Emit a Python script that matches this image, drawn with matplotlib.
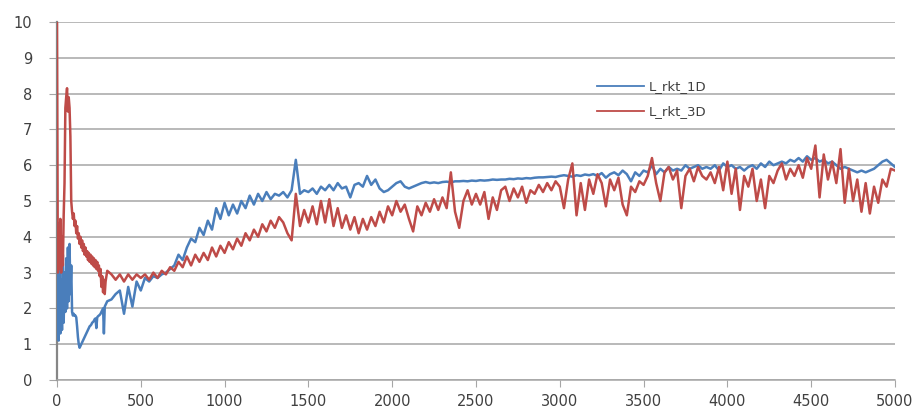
import numpy as np
import matplotlib
matplotlib.use("Agg")
import matplotlib.pyplot as plt

# x grid: dense at the start, then every 25 steps
x_early = np.arange(0, 301, 5)
x_late = np.arange(325, 5001, 25)

# L_rkt_1D values
rkt_1d_early = [
    1.2, 3.9, 1.1, 4.4, 1.3, 2.8, 1.4, 3.5, 1.6, 3.0,
    1.9, 3.4, 2.0, 3.7, 2.2, 3.8, 2.4, 3.2, 1.9, 1.8,
    1.85, 1.8, 1.8, 1.75, 1.5, 1.2, 1.0, 0.9, 0.95, 1.0,
    1.05, 1.1, 1.15, 1.2, 1.25, 1.3, 1.35, 1.4, 1.45, 1.5,
    1.52, 1.55, 1.6, 1.62, 1.65, 1.7, 1.72, 1.45, 1.75, 1.78,
    1.8, 1.82, 1.85, 1.9, 1.95, 2.0, 1.3, 2.05, 2.1, 2.15,
    2.2,
]
rkt_1d_late = [
    2.25, 2.4, 2.5, 1.85, 2.6, 2.05, 2.75, 2.5,
    2.85, 2.75, 2.9, 2.85, 2.95, 3.0, 3.1, 3.2,
    3.5, 3.35, 3.7, 3.95, 3.85, 4.25, 4.05, 4.45,
    4.2, 4.8, 4.5, 4.95, 4.6, 4.9, 4.65, 5.0,
    4.8, 5.15, 4.9, 5.2, 5.0, 5.25, 5.05, 5.2,
    5.15, 5.25, 5.1, 5.3, 6.15, 5.2, 5.3, 5.25,
    5.35, 5.2, 5.4, 5.3, 5.45, 5.3, 5.5, 5.35,
    5.4, 5.1, 5.45, 5.5, 5.4, 5.7, 5.45, 5.6,
    5.35, 5.25, 5.3, 5.4, 5.5, 5.55, 5.4, 5.35,
    5.4, 5.45, 5.5, 5.53, 5.5, 5.52, 5.5, 5.53,
    5.54, 5.52, 5.55, 5.55, 5.56, 5.55, 5.57, 5.56,
    5.58, 5.57, 5.58, 5.6, 5.59, 5.6, 5.6, 5.62,
    5.61, 5.63, 5.62, 5.64, 5.63, 5.65, 5.66, 5.66,
    5.67, 5.68, 5.67, 5.7, 5.72, 5.7, 5.68, 5.72,
    5.7, 5.74, 5.72, 5.75, 5.7, 5.78, 5.65, 5.75,
    5.8, 5.72, 5.85, 5.75, 5.55, 5.8, 5.7, 5.85,
    5.8, 6.0, 5.75, 5.9, 5.8, 5.95, 5.85, 5.9,
    5.85, 6.0, 5.9, 5.95, 6.0, 5.9, 5.95, 5.9,
    6.0, 5.85, 6.05, 5.95, 6.0, 5.9, 5.95, 5.85,
    5.95, 6.0, 5.9, 6.05, 5.95, 6.1, 6.0, 6.05,
    6.1, 6.05, 6.15, 6.1, 6.2, 6.1, 6.25, 6.15,
    6.2, 6.1, 6.15, 6.05, 6.1, 6.0, 5.9, 5.95,
    5.9, 5.85, 5.8, 5.85, 5.8, 5.85, 5.9, 6.0,
    6.1, 6.15, 6.05, 5.95,
]

# L_rkt_3D values
rkt_3d_early = [
    10.0, 3.0, 4.2, 3.1, 4.5, 3.0, 4.0, 3.2, 4.6, 5.5,
    7.6, 7.9, 8.15, 7.5, 7.9, 7.6, 6.8, 5.0, 4.7, 4.5,
    4.65, 4.3, 4.45, 4.1, 4.3, 3.95, 4.1, 3.8, 4.0, 3.7,
    3.9, 3.6, 3.8, 3.5, 3.7, 3.45, 3.6, 3.35, 3.55, 3.3,
    3.5, 3.25, 3.45, 3.2, 3.4, 3.15, 3.35, 3.1, 3.3, 3.05,
    3.2, 2.9, 3.1, 2.6, 2.9, 2.45, 2.8, 2.4, 2.75, 2.9,
    3.05,
]
rkt_3d_late = [
    2.95, 2.8, 2.95, 2.75, 2.95, 2.8, 2.95, 2.85,
    2.95, 2.8, 3.0, 2.85, 3.05, 2.95, 3.15, 3.05,
    3.3, 3.15, 3.45, 3.2, 3.5, 3.3, 3.55, 3.35,
    3.7, 3.45, 3.75, 3.55, 3.85, 3.65, 3.95, 3.75,
    4.1, 3.9, 4.2, 4.0, 4.35, 4.15, 4.45, 4.25,
    4.55, 4.4, 4.1, 3.9, 5.2, 4.3, 4.75, 4.4,
    4.85, 4.35, 5.0, 4.4, 5.05, 4.3, 4.8, 4.25,
    4.6, 4.2, 4.55, 4.1, 4.5, 4.2, 4.55, 4.3,
    4.7, 4.4, 4.85, 4.6, 5.0, 4.7, 4.9, 4.5,
    4.15, 4.85, 4.6, 4.95, 4.7, 5.05, 4.75, 5.1,
    4.8, 5.8, 4.7, 4.25, 5.0, 5.3, 4.9, 5.2,
    4.9, 5.25, 4.5, 5.1, 4.75, 5.3, 5.4, 5.0,
    5.35, 5.1, 5.4, 4.95, 5.3, 5.2, 5.45, 5.25,
    5.5, 5.3, 5.55, 5.4, 4.8, 5.6, 6.05, 4.6,
    5.5, 4.75, 5.6, 5.2, 5.75, 5.5, 4.85, 5.6,
    5.3, 5.65, 4.9, 4.6, 5.4, 5.25, 5.55, 5.45,
    5.7, 6.2, 5.5, 5.0, 5.8, 5.95, 5.6, 5.85,
    4.8, 5.7, 5.9, 5.55, 5.95, 5.7, 5.6, 5.8,
    5.5, 5.95, 5.3, 6.1, 5.2, 5.9, 4.75, 5.7,
    5.4, 5.9, 5.0, 5.6, 4.8, 5.7, 5.5, 5.85,
    6.05, 5.6, 5.9, 5.7, 6.0, 5.65, 6.2, 5.9,
    6.55, 5.1, 6.3, 5.6, 6.1, 5.5, 6.45, 4.95,
    5.9, 5.0, 5.6, 4.7, 5.5, 4.65, 5.4, 4.95,
    5.6, 5.4, 5.9, 5.85,
]

x_ticks = [0, 500, 1000, 1500, 2000, 2500, 3000, 3500, 4000, 4500, 5000]
y_ticks = list(range(0, 11))

x = np.concatenate([x_early, x_late])
y_1d = np.array(rkt_1d_early + rkt_1d_late)
y_3d = np.array(rkt_3d_early + rkt_3d_late)

fig = plt.figure(figsize=(9.22, 4.12), dpi=100)
ax = fig.add_axes([0.0618, 0.0777, 0.9089, 0.8689])

ax.plot(x, y_1d, color="#4a7ebb", lw=1.8, label="L_rkt_1D", zorder=3)
ax.plot(x, y_3d, color="#be4b48", lw=1.8, label="L_rkt_3D", zorder=4)

ax.set_xlim(0, 5000)
ax.set_ylim(0, 10)
ax.set_xticks(x_ticks)
ax.set_yticks(y_ticks)
ax.grid(axis="y", color="#a6a6a6", lw=1.1)
ax.set_axisbelow(True)

for side in ("top", "right"):
    ax.spines[side].set_visible(False)
ax.spines["left"].set_color("#868686")
ax.spines["left"].set_linewidth(1.6)
ax.spines["bottom"].set_color("#a6a6a6")
ax.spines["bottom"].set_linewidth(1.1)
ax.tick_params(axis="y", length=6, color="#a6a6a6", labelsize=10.5, labelcolor="#404040", pad=12)
ax.tick_params(axis="x", length=5, color="#a6a6a6", labelsize=10.5, labelcolor="#404040", pad=5)

leg = ax.legend(loc="upper left", bbox_to_anchor=(0.63, 0.87), frameon=False,
                fontsize=9.5, handlelength=3.6, handletextpad=0.3, labelspacing=0.9)
for line in leg.get_lines():
    line.set_linewidth(1.3)
for t in leg.get_texts():
    t.set_color("#404040")

fig.savefig("out.png", dpi=100)
